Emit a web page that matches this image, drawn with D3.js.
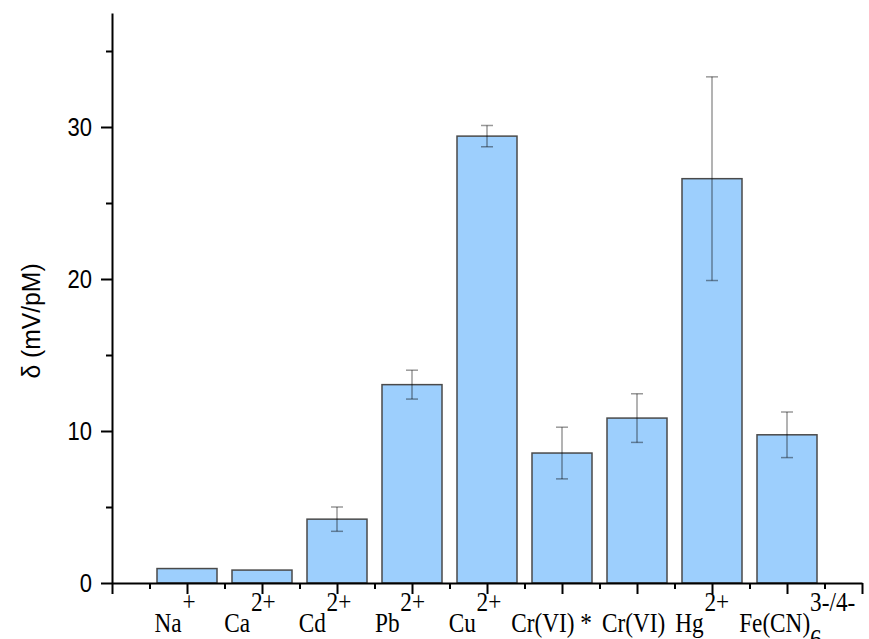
<!DOCTYPE html>
<html>
<head>
<meta charset="utf-8">
<script src="https://cdn.jsdelivr.net/npm/d3@7"></script>
<style>
  html, body { margin: 0; padding: 0; background: #fff; }
  svg { display: block; }
  .axis path, .axis line { stroke: #000; stroke-width: 2; }
  .ytick { font-family: Arial, "Liberation Sans", sans-serif; font-size: 25px; fill: #000; }
  .ylabel { font-family: Arial, "Liberation Sans", sans-serif; font-size: 26px; fill: #000; }
  .xlab { font-family: "Times New Roman", "Liberation Serif", serif; font-size: 28px; fill: #000; }
</style>
</head>
<body>
<svg id="chart" width="869" height="639"></svg>
<script>
  // ions on the x axis: main symbol, subscript, charge (superscript)
  const ionBase = ["Na", "Ca", "Cd", "Pb", "Cu", "Cr(VI) *", "Cr(VI)", "Hg", "Fe(CN)"];
  const ionSub = ["", "", "", "", "", "", "", "", "6"];
  const ionCharge = ["+", "2+", "2+", "2+", "2+", "", "", "2+", "3-/4-"];

  // sensitivity delta (mV/pM) and its error
  const delta = [0.95, 0.85, 4.2, 13.05, 29.4, 8.55, 10.85, 26.6, 9.75];
  const deltaErr = [0, 0, 0.8, 0.95, 0.7, 1.7, 1.6, 6.7, 1.5];

  const yMajor = [0, 10, 20, 30];
  const yMinor = [5, 15, 25, 35];

  // glyphs in the original are horizontally narrow
  const SQUEEZE_Y = 0.88;
  const SQUEEZE_X = 0.83;
  const LABEL_SHIFT = -12; // tick labels sit a bit left of their ticks
  const LABEL_GAP = 10;    // min space between neighbouring tick labels

  const svg = d3.select("#chart");

  const x = d3.scaleLinear().domain([0, 10]).range([112, 862]);
  const y = d3.scaleLinear().domain([0, 37.5]).range([583, 13]);
  const BAR_W = x(0.8) - x(0);

  const rows = ionBase.map((b, i) => ({
    pos: i + 1,
    base: b,
    sub: ionSub[i],
    sup: ionCharge[i],
    v: delta[i],
    e: deltaErr[i]
  }));

  // Bars
  svg.append("g")
    .selectAll("rect")
    .data(rows)
    .join("rect")
    .attr("x", (d) => x(d.pos) - BAR_W / 2)
    .attr("y", (d) => y(d.v))
    .attr("width", BAR_W)
    .attr("height", (d) => y(0) - y(d.v))
    .attr("fill", "#9dcffd")
    .attr("stroke", "#4a4a4a")
    .attr("stroke-width", 1.5);

  // Error bars
  const eb = svg.append("g")
    .attr("stroke", "#000")
    .attr("stroke-opacity", 0.4)
    .attr("stroke-width", 1.5)
    .selectAll("g")
    .data(rows.filter((d) => d.e > 0))
    .join("g");
  eb.append("line")
    .attr("x1", (d) => x(d.pos)).attr("x2", (d) => x(d.pos))
    .attr("y1", (d) => y(d.v - d.e)).attr("y2", (d) => y(d.v + d.e));
  [-1, 1].forEach((s) => {
    eb.append("line")
      .attr("x1", (d) => x(d.pos) - 6).attr("x2", (d) => x(d.pos) + 6)
      .attr("y1", (d) => y(d.v + s * d.e)).attr("y2", (d) => y(d.v + s * d.e));
  });

  // Y axis (major with labels, minor without)
  const gy = svg.append("g")
    .attr("class", "axis")
    .attr("transform", `translate(${x(0)},0)`)
    .call(d3.axisLeft(y).tickValues(yMajor).tickSize(11).tickSizeOuter(0).tickPadding(9).tickFormat(d3.format("d")));
  gy.selectAll("text")
    .attr("class", "ytick")
    .attr("font-size", null)
    .attr("font-family", null)
    .attr("x", -20 / SQUEEZE_Y)
    .attr("transform", `scale(${SQUEEZE_Y},1)`);
  svg.append("g")
    .attr("class", "axis")
    .attr("transform", `translate(${x(0)},0)`)
    .call(d3.axisLeft(y).tickValues(yMinor).tickSize(6).tickSizeOuter(0).tickFormat(""))
    .select(".domain").remove();

  // X axis ticks: integers major, halves minor
  svg.append("g")
    .attr("class", "axis")
    .attr("transform", `translate(0,${y(0)})`)
    .call(d3.axisBottom(x).tickValues(d3.range(0, 11)).tickSize(11).tickSizeOuter(0).tickFormat(""));
  svg.append("g")
    .attr("class", "axis")
    .attr("transform", `translate(0,${y(0)})`)
    .call(d3.axisBottom(x).tickValues(d3.range(0.5, 10, 1)).tickSize(6).tickSizeOuter(0).tickFormat(""))
    .select(".domain").remove();

  // X labels with sub/superscripts; pushed right when they'd run into the previous one
  const labelTf = (cx) => `translate(${cx},632) scale(${SQUEEZE_X},1)`;
  let prevRight = -Infinity;
  rows.forEach((d) => {
    let cx = x(d.pos) + LABEL_SHIFT;
    const t = svg.append("text")
      .attr("class", "xlab")
      .attr("text-anchor", "middle")
      .attr("transform", labelTf(cx));
    t.append("tspan").text(d.base);
    let back = 0;
    if (d.sub) {
      const s = t.append("tspan").attr("dy", 16).text(d.sub);
      back = s.node().getComputedTextLength();
    }
    if (d.sup) {
      t.append("tspan")
        .attr("dx", back ? -back : 1)
        .attr("dy", d.sub ? -37 : -21)
        .text(d.sup);
    }
    let box = t.node().getBoundingClientRect();
    if (box.left < prevRight + LABEL_GAP) {
      cx += prevRight + LABEL_GAP - box.left;
      t.attr("transform", labelTf(cx));
      box = t.node().getBoundingClientRect();
    }
    prevRight = box.right;
  });

  // Y title
  svg.append("text")
    .attr("class", "ylabel")
    .attr("text-anchor", "middle")
    .attr("transform", "translate(40,321) rotate(-90) scale(0.95,1)")
    .text("δ (mV/pM)");
</script>
</body>
</html>
